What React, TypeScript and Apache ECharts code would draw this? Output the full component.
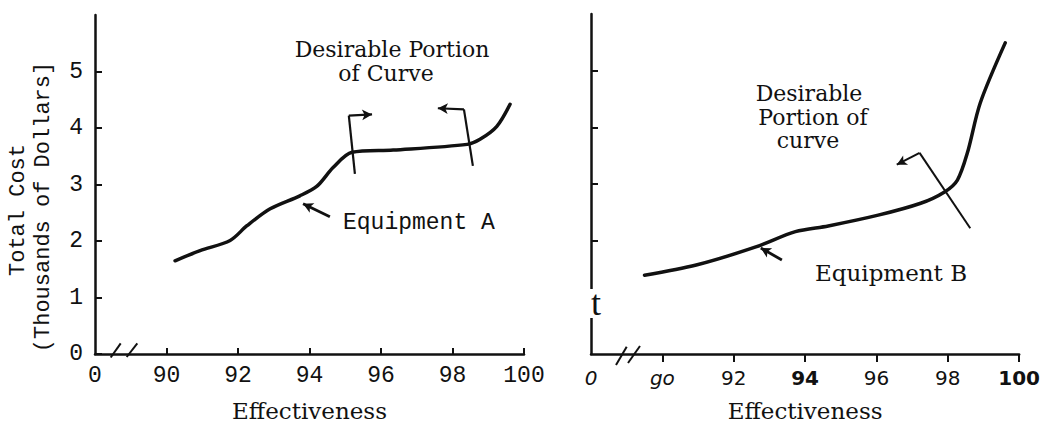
import React, { useEffect, useRef } from "react";
import * as echarts from "echarts";

// ---- data ----
const effA = [90.24, 90.94, 91.78, 92.25, 92.9, 93.73, 94.21, 94.66, 95.19, 96.34, 98.41, 98.77, 99.24, 99.61];
const costA = [1.65, 1.83, 2.01, 2.27, 2.57, 2.8, 2.97, 3.3, 3.57, 3.61, 3.71, 3.8, 4.03, 4.42];
const effB = [89.5, 90.95, 92.62, 93.73, 94.65, 96.05, 97.24, 97.91, 98.27, 98.55, 98.91, 99.61];
const costB = [1.39, 1.57, 1.89, 2.16, 2.26, 2.45, 2.66, 2.86, 3.07, 3.55, 4.43, 5.49];

const xTickValues = [90, 92, 94, 96, 98, 100];
const xLabelValues = [88, 90, 92, 94, 96, 98, 100];
const yTickValuesA = [0, 1, 2, 3, 4, 5];
const yTickValuesB = [2, 3, 4, 5];

// annotation polylines in [effectiveness, cost]; the last segment carries an arrowhead
const bracketA1 = [[95.27, 3.19], [95.1, 4.22], [95.75, 4.24]];
const bracketA2 = [[98.57, 3.33], [98.32, 4.33], [97.59, 4.35]];
const pointerA = [[94.57, 2.43], [93.82, 2.66]];
const bracketB = [[98.63, 2.22], [97.21, 3.55], [96.57, 3.34]];
const pointerB = [[93.35, 1.66], [92.76, 1.87]];

const INK = "#111";
const MONO = "'Liberation Mono', monospace";
const SERIF = "'DejaVu Serif', serif";
const SANS = "'DejaVu Sans', sans-serif";

function polyToMarkLine(pts: number[][], width: number) {
  const out: any[] = [];
  for (let i = 0; i < pts.length - 1; i++) {
    const last = i === pts.length - 2;
    out.push([
      { coord: pts[i], symbol: "none" },
      {
        coord: pts[i + 1],
        symbol: last ? "arrow" : "none",
        symbolSize: last ? [8, 10] : 0,
        lineStyle: { width, color: INK, type: "solid" },
      },
    ]);
  }
  return out;
}

function markLineOf(items: any[]) {
  return {
    silent: true,
    animation: false,
    symbol: ["none", "none"],
    label: { show: false },
    emphasis: { disabled: true },
    lineStyle: { color: INK, width: 2, type: "solid" },
    data: items,
  };
}

function text(t: string, x: number, y: number, size: number, family: string, align = "center", rotation = 0) {
  return {
    type: "text",
    x,
    y,
    rotation,
    z: 100,
    silent: true,
    style: {
      text: t,
      fontSize: size,
      fontFamily: family,
      fill: INK,
      align,
      verticalAlign: "middle",
    },
  };
}

function slash(x1: number, y1: number, x2: number, y2: number) {
  return {
    type: "line",
    silent: true,
    z: 100,
    shape: { x1, y1, x2, y2 },
    style: { stroke: INK, lineWidth: 2 },
  };
}

export default function App() {
  const ref = useRef<HTMLDivElement>(null);

  useEffect(() => {
    if (!ref.current) return;
    document.body.style.margin = "0";
    const chart = echarts.init(ref.current, undefined, { renderer: "svg" });

    const axisLine = { show: true, lineStyle: { color: INK, width: 2.5 } };

    const option: any = {
      animation: false,
      backgroundColor: "#fff",
      grid: [
        { left: 95, top: 15, width: 429, height: 341 },
        { left: 591, top: 14, width: 431, height: 340 },
      ],
      xAxis: [
        {
          type: "value",
          gridIndex: 0,
          min: 88,
          max: 100,
          interval: 2,
          splitLine: { show: false },
          axisLine,
          axisTick: { show: true, inside: true, length: 6, customValues: xTickValues, lineStyle: { color: INK, width: 2 } },
          axisLabel: {
            customValues: xLabelValues,
            margin: 10,
            fontSize: 23,
            fontFamily: MONO,
            color: INK,
            formatter: (v: number) => (v === 88 ? "0" : String(v)),
          },
          name: "Effectiveness",
          nameLocation: "middle",
          nameGap: 45,
          nameTextStyle: { fontSize: 23, fontFamily: SERIF, color: INK },
        },
        {
          type: "value",
          gridIndex: 1,
          min: 88,
          max: 100,
          interval: 2,
          splitLine: { show: false },
          axisLine,
          axisTick: { show: true, inside: false, length: 8, customValues: xTickValues, lineStyle: { color: INK, width: 2 } },
          axisLabel: {
            customValues: xLabelValues,
            margin: 14,
            fontSize: 20,
            fontFamily: SANS,
            color: INK,
            formatter: (v: number) => {
              if (v === 88) return "{i|0}";
              if (v === 90) return "{i|go}";
              if (v === 94 || v === 100) return "{b|" + v + "}";
              return "{n|" + v + "}";
            },
            rich: {
              i: { fontStyle: "italic", fontSize: 20, fontFamily: SANS, color: INK },
              b: { fontWeight: "bold", fontSize: 20, fontFamily: SANS, color: INK },
              n: { fontSize: 20, fontFamily: SANS, color: INK },
            },
          },
          name: "Effectiveness",
          nameLocation: "middle",
          nameGap: 45,
          nameTextStyle: { fontSize: 23, fontFamily: SERIF, color: INK },
        },
      ],
      yAxis: [
        {
          type: "value",
          gridIndex: 0,
          min: 0,
          max: 6,
          interval: 1,
          splitLine: { show: false },
          axisLine,
          axisTick: { show: true, inside: true, length: 7, customValues: yTickValuesA, lineStyle: { color: INK, width: 2 } },
          axisLabel: {
            customValues: yTickValuesA,
            margin: 12,
            fontSize: 23,
            fontFamily: MONO,
            color: INK,
          },
        },
        {
          type: "value",
          gridIndex: 1,
          min: 0,
          max: 6,
          interval: 1,
          splitLine: { show: false },
          axisLine,
          axisTick: { show: true, inside: true, length: 7, customValues: yTickValuesB, lineStyle: { color: INK, width: 2 } },
          axisLabel: { show: false },
        },
      ],
      series: [
        {
          name: "Equipment A",
          type: "line",
          xAxisIndex: 0,
          yAxisIndex: 0,
          data: effA.map((x, i) => [x, costA[i]]),
          smooth: 0.3,
          symbol: "none",
          lineStyle: { color: INK, width: 3.5, cap: "round", join: "round" },
          silent: true,
          markLine: markLineOf([
            ...polyToMarkLine(bracketA1, 2.2),
            ...polyToMarkLine(bracketA2, 2.2),
            ...polyToMarkLine(pointerA, 2.8),
          ]),
        },
        {
          name: "Equipment B",
          type: "line",
          xAxisIndex: 1,
          yAxisIndex: 1,
          data: effB.map((x, i) => [x, costB[i]]),
          smooth: 0.3,
          symbol: "none",
          lineStyle: { color: INK, width: 3.5, cap: "round", join: "round" },
          silent: true,
          markLine: markLineOf([
            ...polyToMarkLine(bracketB, 2),
            ...polyToMarkLine(pointerB, 2.8),
          ]),
        },
      ],
      graphic: [
        // axis break marks
        slash(110.7, 357.5, 120.7, 343.3),
        slash(126.7, 357, 137.3, 343.3),
        slash(616, 365, 626.7, 346.7),
        slash(628, 363, 640, 346),
        // gap with the 't' on the right cost axis
        { type: "rect", silent: true, z: 99, shape: { x: 586, y: 289, width: 10, height: 29 }, style: { fill: "#fff" } },
        text("t", 596, 303, 36, "'Liberation Serif', serif"),
        // y axis title
        text("Total Cost", 18, 210, 22, MONO, "center", Math.PI / 2),
        text("(Thousands of Dollars]", 43, 207, 22, MONO, "center", Math.PI / 2),
        // annotations, left panel
        text("Desirable Portion", 392, 49, 22, SERIF),
        text("of Curve", 386, 73, 22, SERIF),
        text("Equipment A", 343, 223, 23, MONO, "left"),
        // annotations, right panel
        text("Desirable", 809, 93, 22, SERIF),
        text("Portion of", 813, 117, 22, SERIF),
        text("curve", 808, 140, 22, SERIF),
        text("Equipment B", 891, 273, 23, SERIF),
      ],
    };

    chart.setOption(option);
    return () => chart.dispose();
  }, []);

  return <div ref={ref} style={{ width: 1043, height: 427 }} />;
}
